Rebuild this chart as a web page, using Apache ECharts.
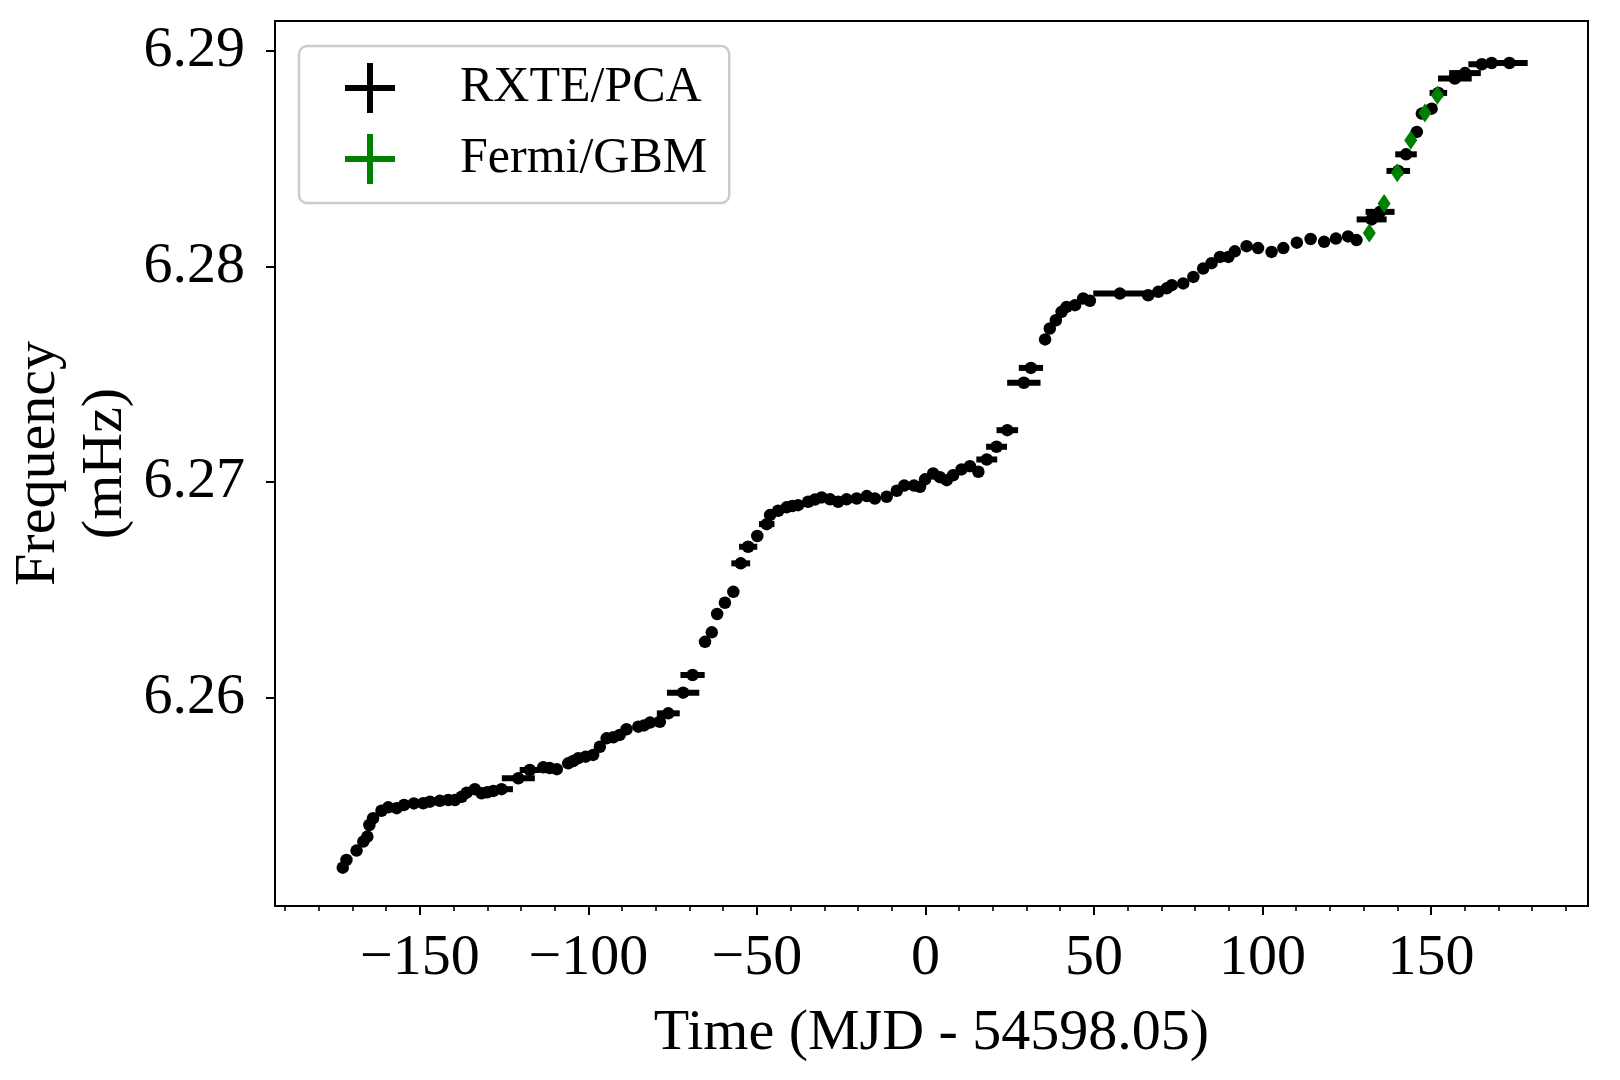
<!DOCTYPE html>
<html>
<head>
<meta charset="utf-8">
<script src="https://cdn.jsdelivr.net/npm/echarts@6/dist/echarts.min.js"></script>
<style>
html,body{margin:0;padding:0;background:#fff;}
#chart{width:1620px;height:1080px;}
</style>
</head>
<body>
<div id="chart"></div>
<script>
// ---- Data ----
const rxteTime = [-172.9,-171.8,-168.8,-166.8,-165.6,-165.0,-163.9,-161.4,-159.4,-156.9,-154.7,-151.8,-149.0,-147.0,-144.1,-141.6,-139.6,-137.6,-136.1,-133.7,-131.7,-130.0,-128.2,-125.8,-120.8,-117.4,-113.4,-111.5,-109.4,-106.0,-104.5,-103.0,-100.8,-98.6,-96.6,-94.6,-92.6,-90.7,-88.7,-85.2,-83.5,-81.7,-78.8,-76.3,-71.9,-69.1,-65.4,-63.4,-61.8,-59.5,-57.0,-54.8,-52.6,-49.9,-47.1,-46.1,-43.7,-41.2,-39.5,-37.8,-34.8,-32.8,-30.8,-28.3,-25.9,-23.4,-20.4,-17.4,-15.0,-11.5,-8.5,-6.3,-3.4,-1.6,-0.1,2.3,4.3,6.3,8.2,10.7,13.2,15.7,18.2,21.1,24.3,29.2,31.3,35.5,36.9,38.7,40.4,41.9,44.4,46.8,48.8,57.7,66.1,69.1,71.6,73.1,76.5,79.5,82.4,84.9,87.4,89.9,91.8,95.3,98.7,102.7,106.2,110.2,114.3,118.3,121.8,125.4,127.9,132.4,134.9,140.3,142.6,145.8,147.3,150.2,152.2,157.1,160.1,165.1,168.0,173.3];
const rxteFreq = [6.25210,6.25246,6.25289,6.25331,6.25354,6.25408,6.25439,6.25474,6.25490,6.25486,6.25501,6.25508,6.25509,6.25516,6.25520,6.25524,6.25524,6.25539,6.25558,6.25574,6.25555,6.25560,6.25566,6.25574,6.25625,6.25663,6.25676,6.25672,6.25667,6.25694,6.25705,6.25718,6.25725,6.25733,6.25771,6.25810,6.25815,6.25826,6.25852,6.25864,6.25870,6.25883,6.25887,6.25926,6.26022,6.26104,6.26258,6.26302,6.26387,6.26439,6.26490,6.26622,6.26699,6.26749,6.26804,6.26846,6.26866,6.26882,6.26888,6.26892,6.26908,6.26918,6.26928,6.26919,6.26908,6.26919,6.26923,6.26934,6.26923,6.26931,6.26959,6.26983,6.26983,6.26977,6.27012,6.27039,6.27022,6.27008,6.27031,6.27058,6.27073,6.27047,6.27104,6.27163,6.27240,6.27460,6.27529,6.27661,6.27712,6.27750,6.27789,6.27812,6.27820,6.27851,6.27840,6.27874,6.27866,6.27882,6.27898,6.27913,6.27921,6.27951,6.27990,6.28015,6.28044,6.28044,6.28070,6.28094,6.28085,6.28067,6.28085,6.28110,6.28127,6.28114,6.28129,6.28139,6.28122,6.28218,6.28253,6.28443,6.28520,6.28624,6.28709,6.28732,6.28805,6.28872,6.28897,6.28938,6.28944,6.28944];
const rxteTimeErr = [1,1,1,1,0.8,0.8,1,1.5,1,1,1,1.5,1,1,1,1,1,1,1,1,1,1,1,3.4,4.9,3,1.5,1,1,1,1,1,1,1,1.5,1,1,1,1,1,1,1,1,3.4,4.8,3.6,0.8,0.8,0.8,0.8,1,2.8,2.7,1,2.3,1.5,1.5,1.5,1,1,1,1,1,1,1,1,1,1,1,1,1,1,1,1,1,1,1,1,1,1,1,1,3.1,3.1,3.2,4.95,3.6,1,1,1,1,1,1,1,1,7.9,1,1,1,1,1,1,1,1,1,1,1,1,1,1,1,1,1,1,1,1,1,4.45,4.3,3.5,3.2,1,1,1,2.6,5,4.7,4,1.5,5.4];

const fermiTime = [131.7,136.1,140.0,144.0,148.2,151.9];
const fermiFreq = [6.28155,6.28292,6.28434,6.28585,6.28712,6.28794];
const fermiTimeErr = [0.8,0.8,0.8,0.8,0.8,0.8];

const xMajorTicks = [-150,-100,-50,0,50,100,150];
const xMinorTicks = [-190,-180,-170,-160,-140,-130,-120,-110,-90,-80,-70,-60,-40,-30,-20,-10,10,20,30,40,60,70,80,90,110,120,130,140,160,170,180,190];
const yTicks = [6.26,6.27,6.28,6.29];

const seriesNames = ['RXTE/PCA','Fermi/GBM'];
const seriesColors = ['#000000','#008000'];

// ---- Build rows ----
const rxteRows = rxteTime.map((t,i)=>[t, rxteFreq[i], rxteTimeErr[i]]);
const fermiRows = fermiTime.map((t,i)=>[t, fermiFreq[i], fermiTimeErr[i]]);

const FONT = "'Liberation Serif','Times New Roman',serif";
const XMIN = -193, XMAX = 196.6, YMIN = 6.25032, YMAX = 6.291387;

function errRender(color){
  return function(params, api){
    const x = api.value(0), y = api.value(1), e = api.value(2);
    const p1 = api.coord([x-e, y]);
    const p2 = api.coord([x+e, y]);
    return {
      type:'line',
      shape:{x1:p1[0], y1:p1[1], x2:p2[0], y2:p2[1]},
      style:{stroke:color, lineWidth:6}
    };
  };
}

const crossIcon = 'path://M0,44H100V56H0Z M44,0H56V100H44Z';

const chart = echarts.init(document.getElementById('chart'), null, {renderer:'canvas'});
chart.setOption({
  animation:false,
  backgroundColor:'#ffffff',
  grid:{left:275, right:32, top:21, bottom:174, show:true, borderColor:'#000', borderWidth:2,
        backgroundColor:'transparent', containLabel:false, outerBoundsMode:'none'},
  legend:{
    left:299, top:46, orient:'vertical',
    padding:[17,22,19,46],
    itemWidth:50, itemHeight:50, itemGap:21,
    backgroundColor:'#fff', borderColor:'#cccccc', borderWidth:2.5, borderRadius:8,
    textStyle:{fontFamily:FONT, fontSize:50, color:'#000', padding:[0,0,0,60]},
    data:[
      {name:seriesNames[0], icon:crossIcon, itemStyle:{color:seriesColors[0], borderWidth:0}},
      {name:seriesNames[1], icon:crossIcon, itemStyle:{color:seriesColors[1], borderWidth:0}}
    ]
  },
  xAxis:[{
    type:'value', min:XMIN, max:XMAX,
    name:'Time (MJD - 54598.05)', nameLocation:'middle', nameGap:99, nameMoveOverlap:false,
    nameTextStyle:{fontFamily:FONT, fontSize:58, color:'#000', lineHeight:58},
    axisLine:{show:true, onZero:false, lineStyle:{color:'#000', width:2}},
    splitLine:{show:false},
    axisTick:{show:true, customValues:xMajorTicks, length:9, lineStyle:{color:'#000', width:2}},
    axisLabel:{show:true, customValues:xMajorTicks, margin:24, fontFamily:FONT, fontSize:58, color:'#000', lineHeight:58,
      formatter:(v)=> v<0 ? '\u2212'+Math.abs(v) : String(v)}
  },{
    type:'value', min:XMIN, max:XMAX, position:'bottom',
    axisLine:{show:false, onZero:false},
    splitLine:{show:false},
    axisTick:{show:true, customValues:xMinorTicks, length:5, lineStyle:{color:'#000', width:1.6}},
    axisLabel:{show:false}
  }],
  yAxis:{
    type:'value', min:YMIN, max:YMAX,
    name:'Frequency\n(mHz)', nameLocation:'middle', nameGap:136, nameRotate:90, nameMoveOverlap:false,
    nameTextStyle:{fontFamily:FONT, fontSize:58, color:'#000', lineHeight:67},
    axisLine:{show:true, onZero:false, lineStyle:{color:'#000', width:2}},
    splitLine:{show:false},
    axisTick:{show:true, customValues:yTicks, length:9, lineStyle:{color:'#000', width:2}},
    axisLabel:{show:true, customValues:yTicks, margin:30, fontFamily:FONT, fontSize:58, color:'#000',
      formatter:(v)=> Number(v).toFixed(2)}
  },
  series:[
    {name:seriesNames[0], type:'custom', xAxisIndex:0, data:rxteRows, renderItem:errRender(seriesColors[0]),
      encode:{x:0,y:1}, itemStyle:{color:seriesColors[0]}, clip:true, z:2},
    {name:seriesNames[0], type:'scatter', xAxisIndex:0, data:rxteRows.map(r=>[r[0],r[1]]),
      symbol:'circle', symbolSize:12.5, itemStyle:{color:seriesColors[0], opacity:1}, z:3},
    {name:seriesNames[1], type:'custom', xAxisIndex:0, data:fermiRows, renderItem:errRender(seriesColors[1]),
      encode:{x:0,y:1}, itemStyle:{color:seriesColors[1]}, clip:true, z:4},
    {name:seriesNames[1], type:'scatter', xAxisIndex:0, data:fermiRows.map(r=>[r[0],r[1]]),
      symbol:'diamond', symbolSize:[13,19], itemStyle:{color:seriesColors[1], opacity:1}, z:5}
  ]
});
</script>
</body>
</html>
